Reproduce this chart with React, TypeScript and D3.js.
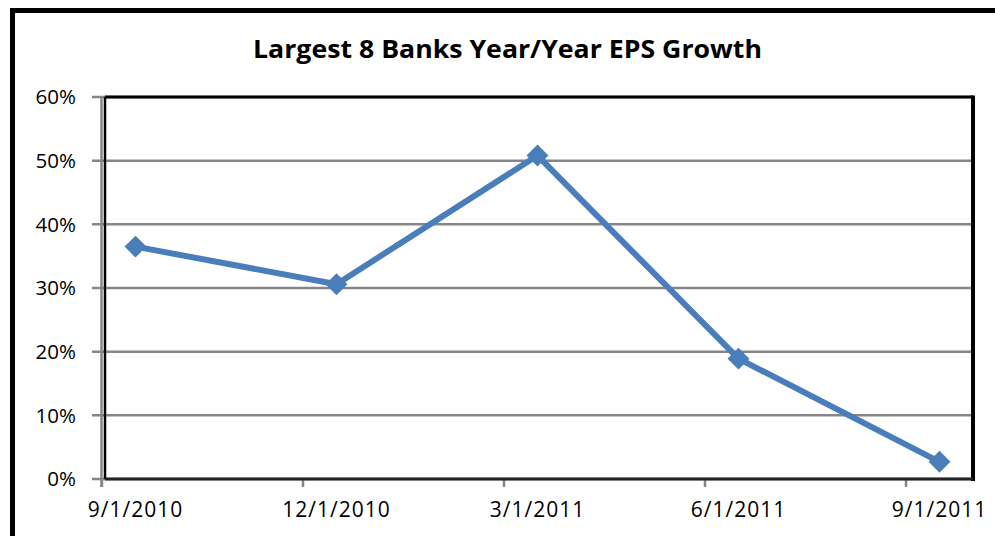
import React from "react";
import * as d3 from "d3";

const title = "Largest 8 Banks Year/Year EPS Growth";
const months = ["2010-09","2010-10","2010-11","2010-12","2011-01","2011-02","2011-03","2011-04","2011-05","2011-06","2011-07","2011-08","2011-09"];
const pointMonths = ["2010-09","2010-12","2011-03","2011-06","2011-09"];
const tickLabels = ["9/1/2010","12/1/2010","3/1/2011","6/1/2011","9/1/2011"];
const growth = [36.5, 30.6, 50.8, 18.9, 2.7];
const yTicks = [0, 10, 20, 30, 40, 50, 60];

export default function App() {
  const W = 995, H = 536;
  const left = 102, right = 973, top = 97, bottom = 479;
  const x = d3.scaleBand<string>().domain(months).range([left, right]).padding(0);
  const y = d3.scaleLinear().domain([0, 60]).range([bottom, top]);
  const cx = (m: string) => (x(m) as number) + x.bandwidth() / 2;
  const line = d3.line<number>().x((_, i) => cx(pointMonths[i])).y((d) => y(d));
  const diamond = d3.symbol().type(d3.symbolSquare).size(240)();
  const blue = "#4a7ebb";
  const gray = "#868686";
  const font = "'Open Sans', sans-serif";
  return (
    <svg width={W} height={H} style={{ position: "absolute", left: 0, top: 0, background: "#fff" }}>
      <rect x={12.5} y={10.5} width={1100} height={700} fill="#fff" stroke="#000" strokeWidth={5} />
      <text x={507.5} y={58} textAnchor="middle" fontFamily={font} fontWeight="bold" fontSize={25}
        textLength={509} lengthAdjust="spacingAndGlyphs" fill="#000">{title}</text>
      {yTicks.map((t) => (
        <line key={"g" + t} x1={92} x2={right} y1={y(t)} y2={y(t)} stroke={gray} strokeWidth={2.5} />
      ))}
      <line x1={left - 0.5} x2={left - 0.5} y1={top} y2={bottom + 8} stroke={gray} strokeWidth={2.5} />
      {pointMonths.map((m) => (
        <line key={"t" + m} x1={x(m) as number} x2={x(m) as number} y1={bottom} y2={bottom + 8} stroke={gray} strokeWidth={2.5} />
      ))}
      <line x1={left + 3} x2={right} y1={top} y2={top} stroke="#000" strokeWidth={3} />
      <line x1={left + 3} x2={left + 3} y1={top} y2={bottom} stroke="#000" strokeWidth={2.5} />
      <line x1={right} x2={right} y1={top - 1.5} y2={bottom + 2} stroke="#000" strokeWidth={4} />
      <line x1={left + 3} x2={right} y1={bottom} y2={bottom} stroke="#222" strokeWidth={3} />
      {yTicks.map((t) => (
        <text key={"yl" + t} x={76} y={y(t)} dy="0.36em" textAnchor="end" fontFamily={font} fontSize={20.5} fill="#000">{t + "%"}</text>
      ))}
      {pointMonths.map((m, i) => (
        <text key={"xl" + m} x={cx(m)} y={517} textAnchor="middle" fontFamily={font} fontSize={21} letterSpacing={1} fill="#000">{tickLabels[i]}</text>
      ))}
      <path d={line(growth) as string} fill="none" stroke={blue} strokeWidth={6} strokeLinejoin="round" />
      {growth.map((v, i) => (
        <path key={"m" + i} d={diamond as string} transform={`translate(${cx(pointMonths[i])},${y(v)}) rotate(45)`} fill={blue} />
      ))}
    </svg>
  );
}
